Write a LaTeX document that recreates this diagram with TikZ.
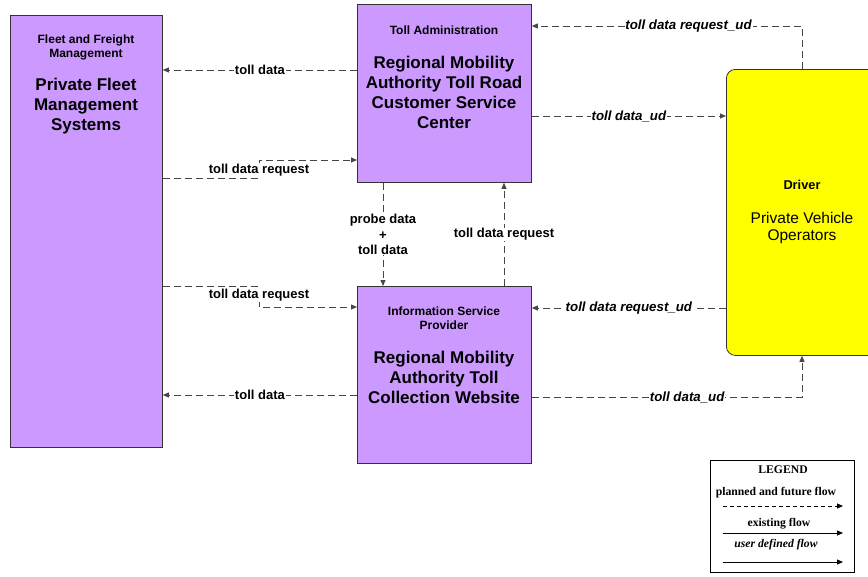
\documentclass[tikz,border=0pt]{standalone}
\usepackage{fontspec}
\setmainfont{Liberation Sans}
\newfontfamily\legfont{Liberation Serif}
\usetikzlibrary{arrows.meta,calc}
\definecolor{boxpurple}{RGB}{204,153,255}
\definecolor{flowgray}{RGB}{70,70,70}
\definecolor{drvyellow}{RGB}{255,255,0}
\begin{document}
\begin{tikzpicture}[x=1pt,y=-1pt,
  box/.style={draw=black!80, line width=0.8pt, fill=boxpurple, anchor=north west, inner sep=0pt},
  tip/.style={-{Triangle[length=6pt,width=5pt]}},
  flow/.style={draw=flowgray, line width=0.8pt, dash pattern=on 7pt off 4pt, tip},
  solidflow/.style={draw=black, line width=0.8pt, tip},
  lbl/.style={fill=white, inner sep=0.8pt, font=\fontsize{13}{15.5}\selectfont\bfseries, text=black},
  ilbl/.style={fill=white, inner sep=0.8pt, font=\fontsize{13.3}{15.5}\selectfont\bfseries\itshape, text=black},
  hdr/.style={align=center, inner sep=0pt, font=\fontsize{12}{13.5}\selectfont\bfseries},
  main/.style={align=center, inner sep=0pt, font=\fontsize{17}{20}\selectfont\bfseries},
  leg/.style={inner sep=0pt, font=\legfont\fontsize{11.7}{13}\selectfont\bfseries}
]
\useasboundingbox (0,0) rectangle (868,576);

% boxes
\node[box, minimum width=152pt, minimum height=432pt] (fleet) at (10,15) {};
\node[box, minimum width=174pt, minimum height=178pt] (ta) at (357,4) {};
\node[box, minimum width=174pt, minimum height=177pt] (isp) at (357,286) {};
\node[box, fill=drvyellow, rounded corners=9pt, minimum width=160pt, minimum height=286pt] (drv) at (726,69) {};

% box texts
\node[hdr] (fleet-h) at (86,47.5) {Fleet and Freight\\Management};
\node[main] (fleet-m) at (86,106) {Private Fleet\\Management\\Systems};
\node[hdr] (ta-h) at (444,30) {Toll Administration};
\node[main] (ta-m) at (444,92) {Regional Mobility\\Authority Toll Road\\Customer Service\\Center};
\node[hdr] (isp-h) at (444,318) {Information Service\\Provider};
\node[main] (isp-m) at (444,377) {Regional Mobility\\Authority Toll\\Collection Website};
\node[hdr, font=\fontsize{12.8}{14}\selectfont\bfseries] (drv-h) at (802,185) {Driver};
\node[align=center, inner sep=0pt, font=\fontsize{15.5}{17}\selectfont] (drv-m) at (802,227.5) {Private Vehicle\\Operators};

% bend points
\coordinate (b1) at (259,178);
\coordinate (b2) at (259,160);
\coordinate (b3) at (259,286);
\coordinate (b4) at (259,307);
\coordinate (b5) at (802,26);
\coordinate (b6) at (802,397);

% connectors
\draw[flow] (ta.west |- 0,70) -- node[lbl]{toll data} (fleet.east |- 0,70);
\draw[flow] (fleet.east |- b1) -- (b1) -- node[lbl, pos=0.45]{toll data request} (b2) -- (ta.west |- b2);
\draw[flow] (fleet.east |- b3) -- (b3) -- node[lbl, pos=0.42]{toll data request} (b4) -- (isp.west |- b4);
\draw[flow] (ta.south -| 383,0) -- node[lbl, align=center]{probe data\\+\\toll data} (isp.north -| 383,0);
\draw[flow] (isp.north -| 504,0) -- node[lbl]{toll data request} (ta.south -| 504,0);
\draw[flow] (drv.north -| b5) -- (b5) -- node[ilbl, pos=0.42]{toll data request\_ud} (ta.east |- b5);
\draw[flow] (ta.east |- 0,116) -- node[ilbl]{toll data\_ud} (drv.west |- 0,116);
\draw[flow] (drv.west |- 0,308) -- node[ilbl]{toll data request\_ud} (isp.east |- 0,308);
\draw[flow] (isp.east |- b6) -- node[ilbl, pos=0.575]{toll data\_ud} (b6) -- (drv.south -| b6);
\draw[flow] (isp.west |- 0,395) -- node[lbl]{toll data} (fleet.east |- 0,395);

% legend
\node[draw=black, line width=1pt, anchor=north west, minimum width=144pt, minimum height=112pt, inner sep=0pt] (legend) at (710,460) {};
\node[leg] (leg-t) at (783,470) {LEGEND};
\node[leg] (leg-p) at (776,493) {planned and future flow};
\node[leg] (leg-e) at (779,524) {existing flow};
\node[leg, font=\legfont\fontsize{11.7}{13}\selectfont\bfseries\itshape] (leg-u) at (776,545) {user defined flow};
\coordinate (l1a) at (723,506); \coordinate (l1b) at (843,506);
\coordinate (l2a) at (723,533); \coordinate (l2b) at (843,533);
\coordinate (l3a) at (723,562); \coordinate (l3b) at (843,562);
\draw[flow, draw=black, dash pattern=on 4pt off 3pt] (l1a) -- (l1b);
\draw[solidflow] (l2a) -- (l2b);
\draw[solidflow] (l3a) -- (l3b);
\end{tikzpicture}
\end{document}
